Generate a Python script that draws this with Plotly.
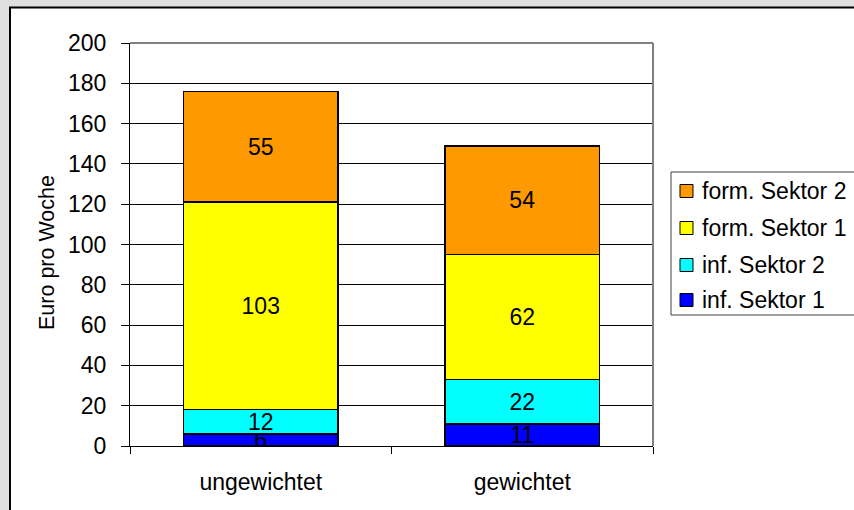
import plotly.graph_objects as go

categories = ["ungewichtet", "gewichtet"]
series_names = ["inf. Sektor 1", "inf. Sektor 2", "form. Sektor 1", "form. Sektor 2"]
inf_sektor_1 = [6, 11]
inf_sektor_2 = [12, 22]
form_sektor_1 = [103, 62]
form_sektor_2 = [55, 54]
colors = ["#0000FF", "#00FFFF", "#FFFF00", "#FF9900"]
y_ticks = list(range(0, 201, 20))
y_title = "Euro pro Woche"

FONT = "Liberation Sans, Arial, sans-serif"
FS = 23

all_series = [inf_sektor_1, inf_sektor_2, form_sektor_1, form_sektor_2]

fig = go.Figure()
for name, vals, col in zip(series_names, all_series, colors):
    fig.add_trace(go.Bar(
        x=categories, y=vals, name=name, showlegend=False,
        marker=dict(color=col, line=dict(color="black", width=1.5)),
        text=[str(v) for v in vals], textposition="inside", textangle=0,
        insidetextanchor="middle",
        textfont=dict(color="black", size=FS, family=FONT),
    ))

W, H = 854, 510
L, R, T, B = 130, 201, 43, 64
pw, ph = W - L - R, H - T - B

def px_x(p):
    return (p - L) / pw

def px_y(p):
    return (H - B - p) / ph

shapes = [
    dict(type="rect", xref="paper", yref="paper", layer="below",
         x0=px_x(10), x1=px_x(870), y0=px_y(530), y1=px_y(7.5),
         fillcolor="white", line=dict(color="black", width=2)),
    dict(type="line", xref="paper", yref="paper", layer="above",
         x0=0, x1=1, y0=1, y1=1, line=dict(color="#808080", width=2)),
    dict(type="line", xref="paper", yref="paper", layer="above",
         x0=1, x1=1, y0=0, y1=1, line=dict(color="#808080", width=2)),
    # legend box
    dict(type="rect", xref="paper", yref="paper", layer="above",
         x0=px_x(671), x1=px_x(880), y0=px_y(315), y1=px_y(172),
         fillcolor="white", line=dict(color="#404040", width=1)),
]
annotations = [
    dict(text=y_title, xref="paper", yref="paper", x=px_x(47), y=px_y(253),
         textangle=-90, showarrow=False, font=dict(size=21.5, family=FONT),
         xanchor="center", yanchor="middle"),
]

# manual legend (reversed order, top = last series)
row_centers = [191, 228, 265, 300]
for i, (name, col) in enumerate(zip(series_names[::-1], colors[::-1])):
    cy = row_centers[i]
    shapes.append(dict(type="rect", xref="paper", yref="paper", layer="above",
                       x0=px_x(680), x1=px_x(693), y0=px_y(cy + 6.5), y1=px_y(cy - 6.5),
                       fillcolor=col, line=dict(color="black", width=1)))
    annotations.append(dict(text=name, xref="paper", yref="paper",
                            x=px_x(700), y=px_y(cy), xanchor="left", yanchor="middle",
                            showarrow=False, font=dict(size=FS, family=FONT)))

fig.update_layout(
    width=W, height=H,
    barmode="stack", bargap=0.41,
    paper_bgcolor="#E0E0E0", plot_bgcolor="rgba(0,0,0,0)",
    margin=dict(l=L, r=R, t=T, b=B, pad=0),
    font=dict(family=FONT, size=FS, color="black"),
    uniformtext=dict(minsize=FS, mode="show"),
    showlegend=False,
    xaxis=dict(
        showline=True, linecolor="black", linewidth=1,
        ticks="outside", tickson="boundaries", ticklen=7, tickcolor="black",
        showgrid=False, ticklabelstandoff=15,
    ),
    yaxis=dict(
        range=[0, 200], tickvals=y_ticks, showline=True, linecolor="black", linewidth=1,
        ticks="outside", ticklen=8, tickcolor="black",
        showgrid=True, gridcolor="black", gridwidth=1, zeroline=False,
        ticklabelstandoff=10,
    ),
    shapes=shapes,
    annotations=annotations,
)

fig.write_html("out.html", config={"displayModeBar": False},
               post_script="document.body.style.margin='0';document.body.style.overflow='hidden';")
